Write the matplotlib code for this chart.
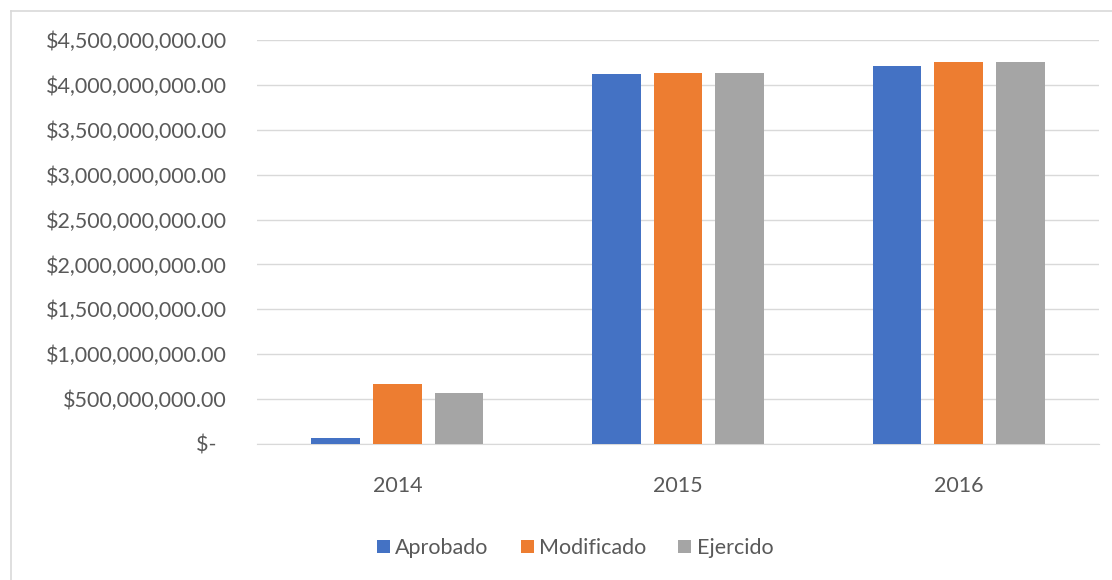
import numpy as np
import matplotlib.pyplot as plt
from matplotlib.lines import Line2D
from matplotlib.ticker import FuncFormatter

years = ["2014", "2015", "2016"]
aprobado = [70e6, 4.118e9, 4.21e9]
modificado = [668e6, 4.137e9, 4.255e9]
ejercido = [565e6, 4.137e9, 4.255e9]

series = [("Aprobado", aprobado, "#4472c4"),
          ("Modificado", modificado, "#ed7d31"),
          ("Ejercido", ejercido, "#a5a5a5")]

plt.rcParams['font.family'] = ['Lato', 'DejaVu Sans']
fs = 15.5

fig = plt.figure(figsize=(11.12, 5.8), dpi=100)
ax = fig.add_axes([257 / 1112, 1 - 444 / 580, (1099 - 257) / 1112, 404 / 580])

x = np.arange(len(years))
w = 0.174
step = 0.22
for i, (name, vals, col) in enumerate(series):
    ax.bar(x + (i - 1) * step, vals, width=w, color=col, label=name, zorder=3)

ax.set_xlim(-0.5, 2.5)
ax.set_ylim(0, 4.5e9)
ax.set_yticks(np.arange(0, 4.5e9 + 1, 5e8))


def money(v, pos):
    if v == 0:
        return "$-  "
    return "${:,.2f}".format(v)


ax.yaxis.set_major_formatter(FuncFormatter(money))
ax.set_xticks(x)
ax.set_xticklabels(years)
ax.grid(axis='y', color='#d9d9d9', linewidth=1, zorder=0)
for s in ['top', 'right', 'left']:
    ax.spines[s].set_visible(False)
ax.spines['bottom'].set_color('#d9d9d9')
ax.tick_params(axis='both', length=0, colors='#595959', labelsize=fs)
ax.tick_params(axis='y', pad=21.6)
ax.tick_params(axis='x', pad=23)

leg = fig.legend(loc='center', bbox_to_anchor=(575 / 1112, 1 - 548 / 580), ncol=3,
                 frameon=False, fontsize=fs, handlelength=0.6, handleheight=0.6,
                 handletextpad=0.25, columnspacing=1.5)
for t in leg.get_texts():
    t.set_color('#595959')

# chart frame (only top and left edges visible in the crop)
fig.lines.append(Line2D([10.5 / 1112, 1], [1 - 11 / 580, 1 - 11 / 580],
                        transform=fig.transFigure, color='#d9d9d9', linewidth=1.2))
fig.lines.append(Line2D([10.5 / 1112, 10.5 / 1112], [0, 1 - 11 / 580],
                        transform=fig.transFigure, color='#d9d9d9', linewidth=1.2))

fig.savefig("out.png", dpi=100, facecolor='white')
